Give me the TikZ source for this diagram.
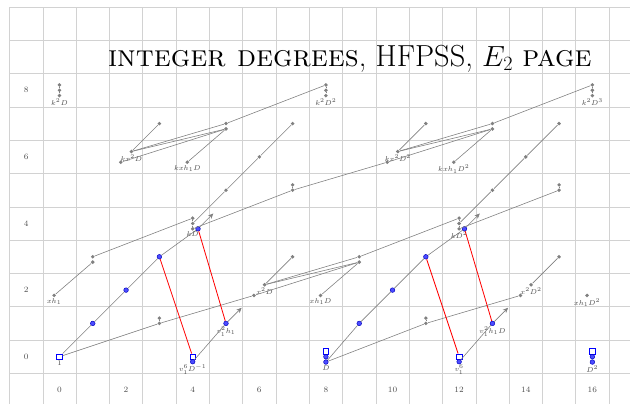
\documentclass[tikz,border=0pt]{standalone}
\usetikzlibrary{arrows.meta, positioning}
\begin{document}
\begin{tikzpicture}[x=1cm, y=1cm,
    gdot/.style={circle, fill=gray, inner sep=0pt, minimum size=1.15mm},
    bdot/.style={circle, draw=blue!75!black, fill=blue!70, line width=0.4pt, inner sep=0pt, minimum size=1.4mm},
    bsq/.style={draw=blue, line width=0.6pt, fill=white, inner sep=0pt, minimum size=1.7mm},
    lbl/.style={font=\fontsize{5.8}{6}\selectfont, text=black!70, inner sep=0.5pt},
    axlbl/.style={font=\scriptsize, text=black!70},
    mul/.style={gray, line width=0.5pt},
    dif/.style={red, line width=0.7pt},
    tower/.style={mul, -{Stealth[length=1.6mm, width=1.4mm]}}]
    \useasboundingbox (-1.785,-1.39) rectangle (17.13,10.71);
    \clip (-1.785,-1.39) rectangle (17.13,10.71);
    % grid and axes
    \draw[gray!35, line width=0.5pt, shift={(0.5,0.5)}] (-2,-2) grid (17,10);
    \foreach \s in {0,2,...,8}
      \node[axlbl] (row\s) at (-1,\s) {\s};
    \foreach \n in {0,2,...,16}
      \node[axlbl] (col\n) at (\n,-1) {\n};
    \node[font=\fontsize{26}{30}\selectfont] (title) at (8.72,8.95) {\textsc{integer degrees}, HFPSS, $E_2$ \textsc{page}};

    % filtration 0
    \node[bsq] (one) at (0,0) {};
    \node[bsq] (vD) at (4,0) {};
    \node[bdot] (vDb) at (4,-0.15) {};
    \node[bsq] (Dt) at (8,0.16) {};
    \node[bdot] (Dm) at (8,0) {};
    \node[bdot] (Db) at (8,-0.16) {};
    \node[bsq] (vs) at (12,0) {};
    \node[bdot] (vsb) at (12,-0.15) {};
    \node[bsq] (DDt) at (16,0.16) {};
    \node[bdot] (DDm) at (16,0) {};
    \node[bdot] (DDb) at (16,-0.16) {};
    \node[lbl, below=0pt of one] {$1$};
    \node[lbl, below=0pt of vDb] {$v_1^6D^{-1}$};
    \node[lbl, below=0pt of Db] {$D$};
    \node[lbl, below=0pt of vsb] {$v_1^6$};
    \node[lbl, below=0pt of DDb] {$D^2$};

    % h_1 towers
    \foreach \i/\x/\y in {1/1/1, 2/2/2, 3/3/3, 4/4.16/3.84} {
      \node[bdot] (h\i) at (\x,\y) {};
      \node[bdot] (Dh\i) at (\x+8,\y) {};
    }
    \node[bdot] (vh) at (5,1) {};
    \node[bdot] (vhD) at (13,1) {};
    \node[lbl, below=0pt of vh] {$v_1^2h_1$};
    \node[lbl, below=0pt of vhD] {$v_1^2h_1D$};
    \coordinate (ah) at (4.62,4.3);
    \coordinate (aDh) at (12.62,4.3);
    \coordinate (avh) at (5.47,1.47);
    \coordinate (avhD) at (13.47,1.47);
    \draw[mul] (one) -- (h1) -- (h2) -- (h3) -- (h4);
    \draw[mul] (Db) -- (Dh1) -- (Dh2) -- (Dh3) -- (Dh4);
    \draw[mul] (vDb) -- (vh);
    \draw[mul] (vsb) -- (vhD);
    \draw[tower] (h4) -- (ah);
    \draw[tower] (Dh4) -- (aDh);
    \draw[tower] (vh) -- (avh);
    \draw[tower] (vhD) -- (avhD);

    % gray classes
    \foreach \nm/\x/\y in {nu/3/1, nut/3/1.16, nuu/5.84/1.84, nuuu/9/2.84, nuuut/9/3,
        Dnu/11/1, Dnut/11/1.16, Dnuu/13.84/1.84,
        xh/-0.16/1.84, xhD/7.84/1.84, xhDD/15.84/1.84, xxD/6.16/2.16, xxDD/14.16/2.16,
        p/1/2.84, pt/1/3, q/7/3, Dq/15/3,
        kDt/4/4.16, kDm/4/4, kDb/4/3.84, kDDt/12/4.16, kDDm/12/4, kDDb/12/3.84,
        r5/5/5, r6/6/6, r7/7/7, Dr5/13/5, Dr6/14/6, Dr7/15/7,
        kn/7/5, knt/7/5.16, kDDn/15/5, kDDnt/15/5.16, knn/9.84/5.84,
        knu/1.84/5.84, kxxD/2.16/6.16, kxhD/3.84/5.84, kxxDD/10.16/6.16, kxhDD/11.84/5.84,
        t/3/7, Dt7/11/7, w/5/6.84, wt/5/7, Dw/13/6.84, Dwt/13/7,
        kkDt/0/8.16, kkDm/0/8, kkDb/0/7.84, kkDDt/8/8.16, kkDDm/8/8, kkDDb/8/7.84,
        kkDDDt/16/8.16, kkDDDm/16/8, kkDDDb/16/7.84}
      \node[gdot] (\nm) at (\x,\y) {};
    \node[lbl, below=0pt of xh] {$xh_1$};
    \node[lbl, below=0pt of xhD] {$xh_1D$};
    \node[lbl, below=0pt of xhDD] {$xh_1D^2$};
    \node[lbl, below=0pt of xxD] {$x^2D$};
    \node[lbl, below=0pt of xxDD] {$x^2D^2$};
    \node[lbl, below=0pt of kDb] {$kD$};
    \node[lbl, below=0pt of kDDb] {$kD^2$};
    \node[lbl, below=0pt of kxxD] {$kx^2D$};
    \node[lbl, below=0pt of kxhD] {$kxh_1D$};
    \node[lbl, below=0pt of kxxDD] {$kx^2D^2$};
    \node[lbl, below=0pt of kxhDD] {$kxh_1D^2$};
    \node[lbl, below=0pt of kkDb] {$k^2D$};
    \node[lbl, below=0pt of kkDDb] {$k^2D^2$};
    \node[lbl, below=0pt of kkDDDb] {$k^2D^3$};

    % 2-extensions
    \draw[mul] (nu) -- (nut);
    \draw[mul] (Dnu) -- (Dnut);
    \draw[mul] (kn) -- (knt);
    \draw[mul] (kDDn) -- (kDDnt);
    \draw[mul] (kDb) -- (kDm) -- (kDt);
    \draw[mul] (kDDb) -- (kDDm) -- (kDDt);
    \draw[mul] (kkDb) -- (kkDm) -- (kkDt);
    \draw[mul] (kkDDb) -- (kkDDm) -- (kkDDt);
    \draw[mul] (kkDDDb) -- (kkDDDm) -- (kkDDDt);

    % h_1 multiplications
    \draw[mul] (xh) -- (p);
    \draw[mul] (xhD) -- (nuuu);
    \draw[mul] (xxD) -- (q);
    \draw[mul] (xxDD) -- (Dq);
    \draw[mul] (kDm) -- (r5) -- (r6) -- (r7);
    \draw[mul] (kDDm) -- (Dr5) -- (Dr6) -- (Dr7);
    \draw[mul] (kxxD) -- (t);
    \draw[mul] (kxxDD) -- (Dt7);
    \draw[mul] (kxhD) -- (w);
    \draw[mul] (kxhDD) -- (Dw);

    % h_2 multiplications
    \draw[mul] (one) -- (nu) -- (nuu) -- (nuuu);
    \draw[mul] (Db) -- (Dnu) -- (Dnuu);
    \draw[mul] (pt) -- (kDt);
    \draw[mul] (nuuut) -- (kDDt);
    \draw[mul] (xxD) -- (nuuut);
    \draw[mul] (xxD) -- (nuuu);
    \draw[mul] (kDb) -- (kn) -- (knn) -- (Dw);
    \draw[mul] (kDDb) -- (kDDn);
    \draw[mul] (knu) -- (w);
    \draw[mul] (kxxD) -- (w);
    \draw[mul] (kxxD) -- (wt);
    \draw[mul] (kxxDD) -- (Dw);
    \draw[mul] (kxxDD) -- (Dwt);
    \draw[mul] (wt) -- (kkDDt);
    \draw[mul] (Dwt) -- (kkDDDt);

    % d_3 differentials
    \draw[dif] (vD) -- (h3);
    \draw[dif] (vh) -- (h4);
    \draw[dif] (vs) -- (Dh3);
    \draw[dif] (vhD) -- (Dh4);
\end{tikzpicture}
\end{document}
